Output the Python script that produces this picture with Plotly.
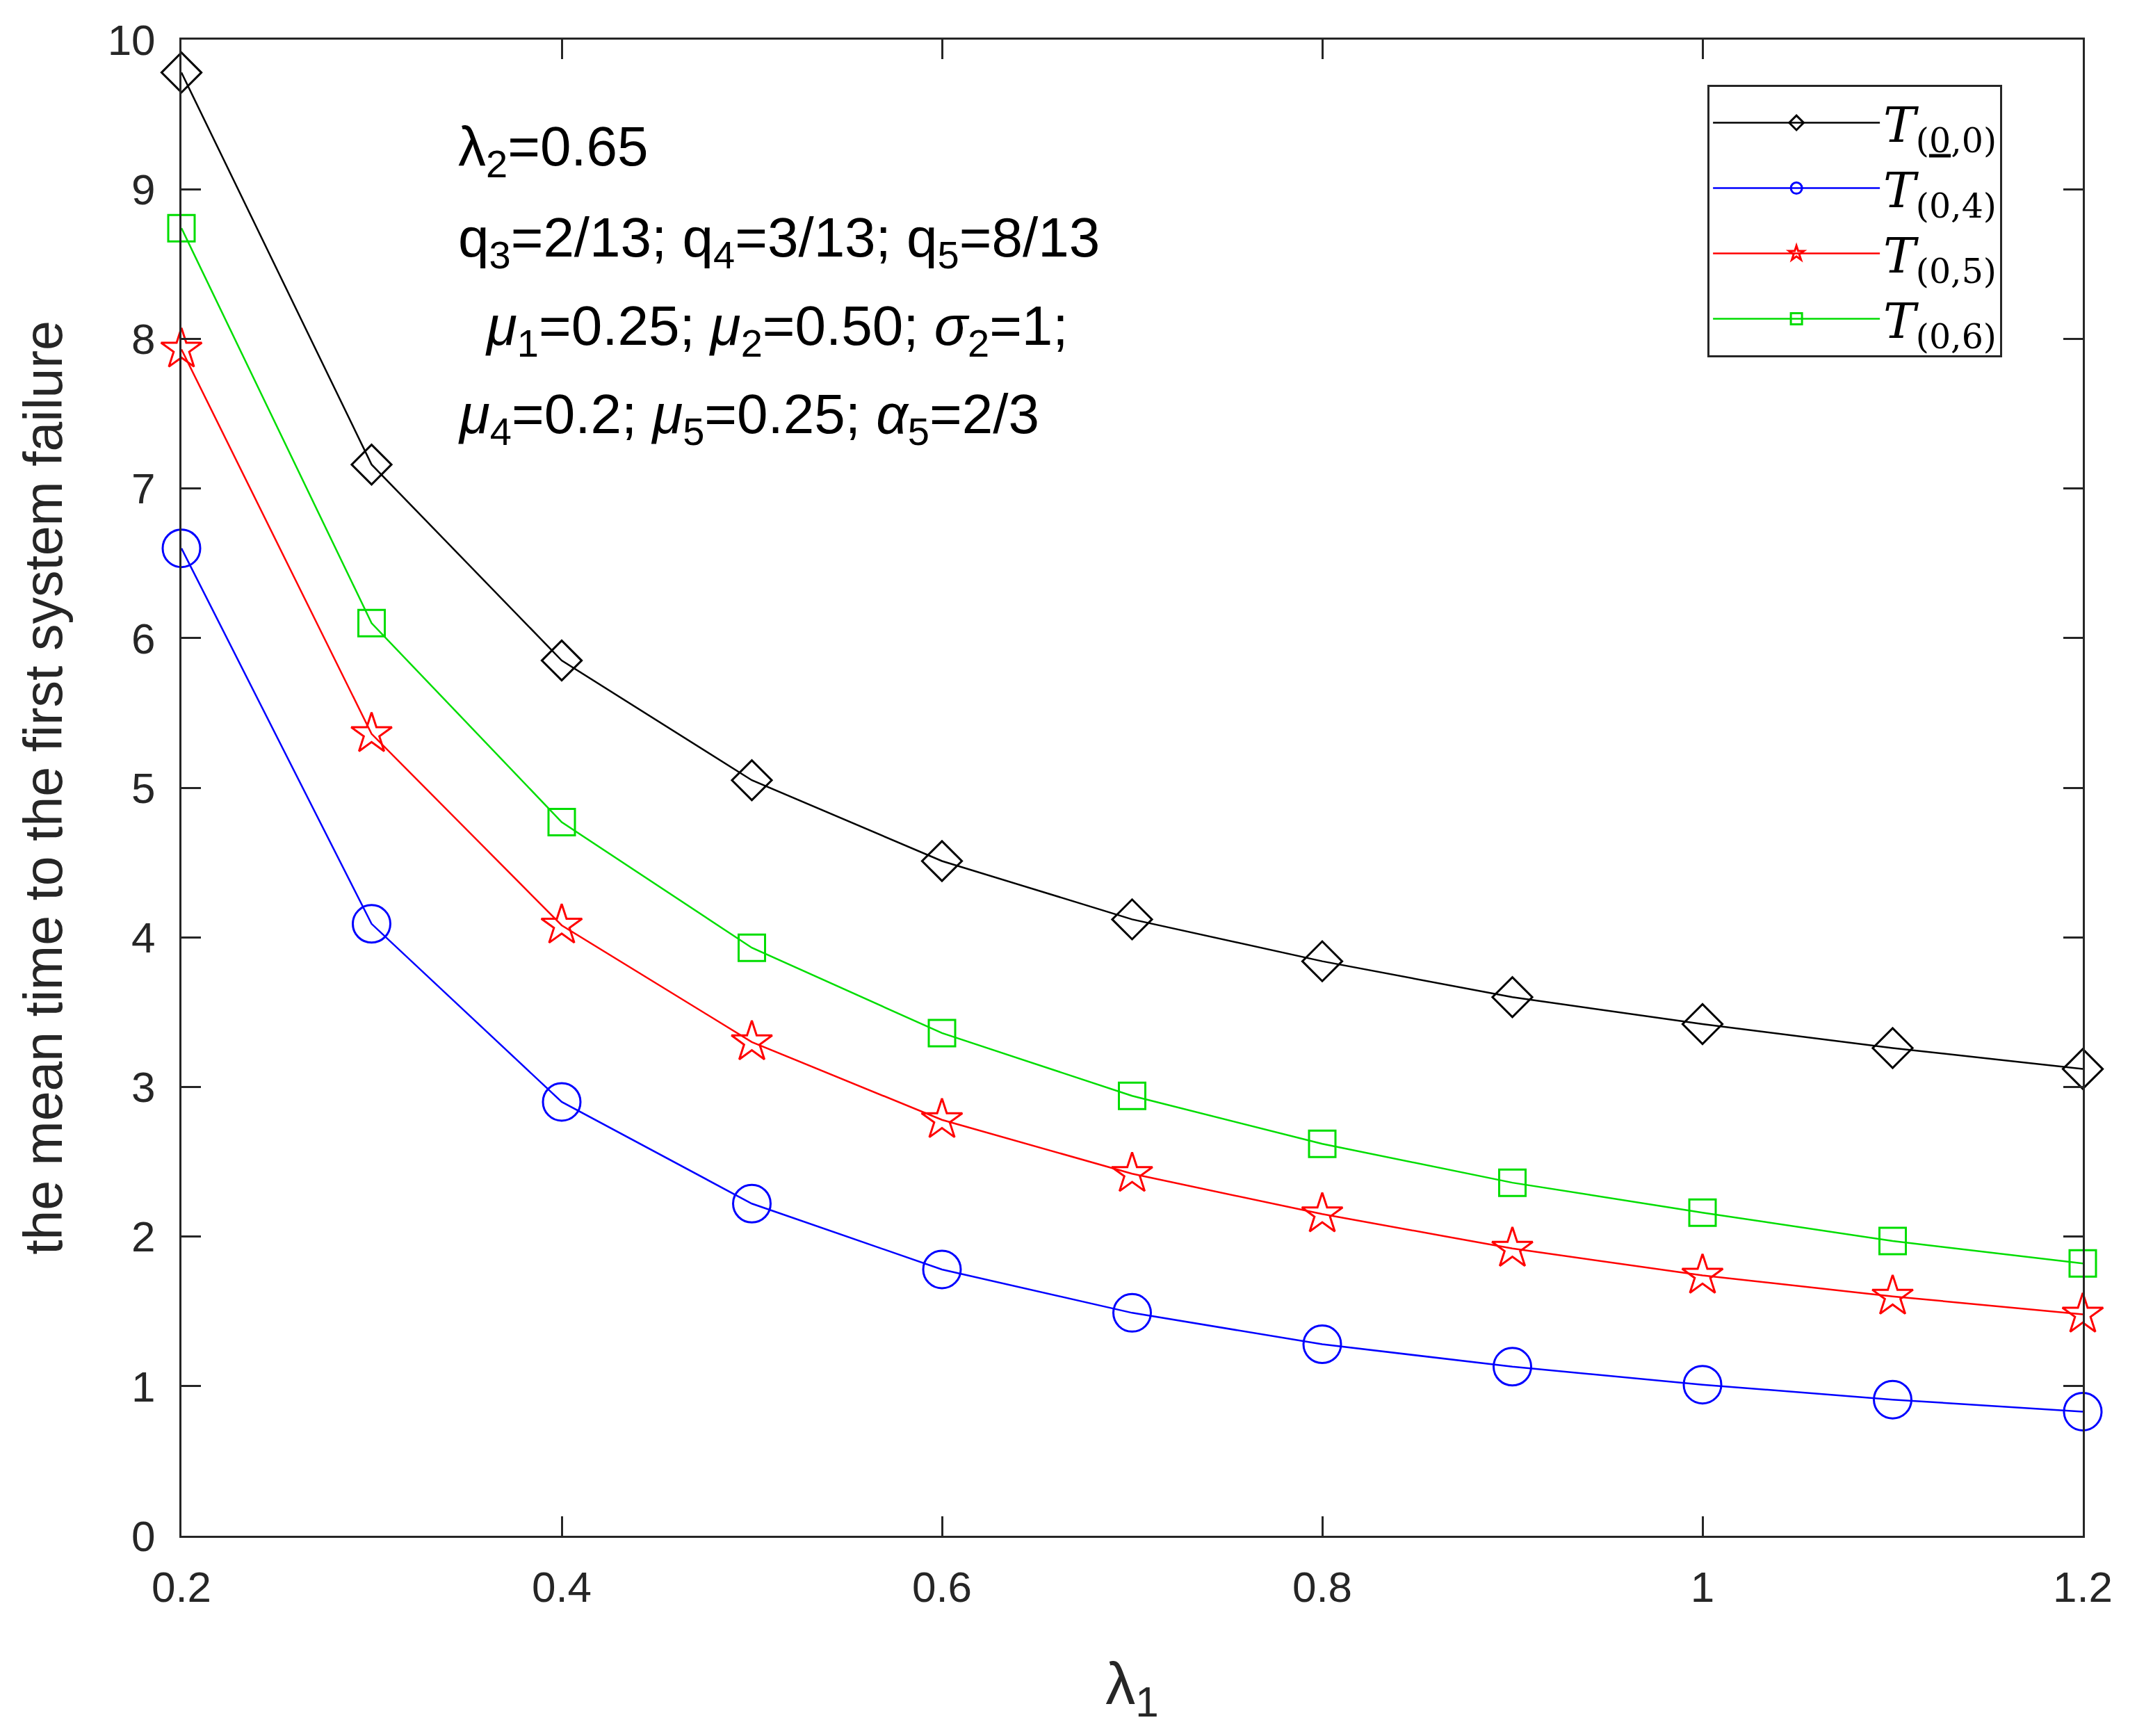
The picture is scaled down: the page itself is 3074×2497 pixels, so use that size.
import plotly.graph_objects as go

# valores
lambda1 = [0.2, 0.3, 0.4, 0.5, 0.6, 0.7, 0.8, 0.9, 1.0, 1.1, 1.2]
t00 = [9.78, 7.16, 5.85, 5.05, 4.51, 4.12, 3.84, 3.60, 3.42, 3.26, 3.12]
t04 = [6.60, 4.09, 2.90, 2.22, 1.78, 1.49, 1.28, 1.13, 1.01, 0.91, 0.83]
t05 = [7.93, 5.36, 4.08, 3.30, 2.78, 2.42, 2.15, 1.92, 1.74, 1.60, 1.48]
t06 = [8.74, 6.10, 4.77, 3.93, 3.36, 2.94, 2.62, 2.36, 2.16, 1.97, 1.82]

xticks = [0.2, 0.4, 0.6, 0.8, 1.0, 1.2]
xlabels = ['0.2', '0.4', '0.6', '0.8', '1', '1.2']
yticks = list(range(0, 11))

sans = 'Liberation Sans Narrow, Arial Narrow, Liberation Sans, Arial, sans-serif'
serif = 'DejaVu Serif, Liberation Serif, Times New Roman, serif'
eixo = '#262626'

series = [
    (t00, 'T', '(<u>0</u>,0)', 'black', 'diamond-open', 44),
    (t04, 'T', '(0,4)', 'blue', 'circle-open', 54),
    (t05, 'T', '(0,5)', 'red', 'star-open', 44),
    (t06, 'T', '(0,6)', '#00dd00', 'square-open', 38),
]

fig = go.Figure()
for y, nome, sub, cor, simb, tam in series:
    fig.add_trace(go.Scatter(
        x=lambda1, y=y, mode='lines+markers',
        name='<i>' + nome + '</i><sub>' + sub + '</sub>',
        line=dict(color=cor, width=2.5),
        marker=dict(symbol=simb, size=tam, color=cor, line=dict(color=cor, width=3)),
        cliponaxis=False,
    ))

fig.update_xaxes(
    range=[0.2, 1.2], tickvals=xticks, ticktext=xlabels,
    showline=True, linecolor=eixo, linewidth=3, mirror='ticks',
    ticks='inside', ticklen=28, tickwidth=2.5, tickcolor=eixo,
    showgrid=False, zeroline=False,
    tickfont=dict(family=sans, size=62, color=eixo),
    ticklabelstandoff=18,
    title=dict(text='λ<sub>1</sub>', font=dict(family=sans, size=86, color=eixo), standoff=75),
)
fig.update_yaxes(
    range=[0, 10], tickvals=yticks,
    showline=True, linecolor=eixo, linewidth=3, mirror='ticks',
    ticks='inside', ticklen=28, tickwidth=2.5, tickcolor=eixo,
    showgrid=False, zeroline=False,
    tickfont=dict(family=sans, size=62, color=eixo),
    ticklabelstandoff=22,
    title=dict(text='the mean time to the first system failure',
               font=dict(family=sans, size=77, color=eixo), standoff=40),
)

# texto com os parametros
linhas = [
    ('λ<sub>2</sub>=0.65', 0.1448, 0.926),
    ('q<sub>3</sub>=2/13; q<sub>4</sub>=3/13; q<sub>5</sub>=8/13', 0.1448, 0.865),
    ('<i>μ</i><sub>1</sub>=0.25; <i>μ</i><sub>2</sub>=0.50; <i>σ</i><sub>2</sub>=1;', 0.159, 0.806),
    ('<i>μ</i><sub>4</sub>=0.2; <i>μ</i><sub>5</sub>=0.25; <i>α</i><sub>5</sub>=2/3', 0.1448, 0.747),
]
for txt, xp, yp in linhas:
    fig.add_annotation(text=txt, x=xp, y=yp, xref='paper', yref='paper',
                       xanchor='left', yanchor='middle', showarrow=False, align='left',
                       font=dict(family=sans, size=80, color='black'))

fig.update_layout(
    width=3074, height=2497,
    margin=dict(l=253, r=86, t=49, b=296),
    plot_bgcolor='white', paper_bgcolor='white',
    showlegend=True,
    legend=dict(x=0.8026, y=0.970, xanchor='left', yanchor='top',
                bgcolor='white', bordercolor='#262626', borderwidth=3,
                font=dict(family=serif, size=70, color='black'),
                itemwidth=240, tracegroupgap=0),
)

fig.write_html('out.html')
